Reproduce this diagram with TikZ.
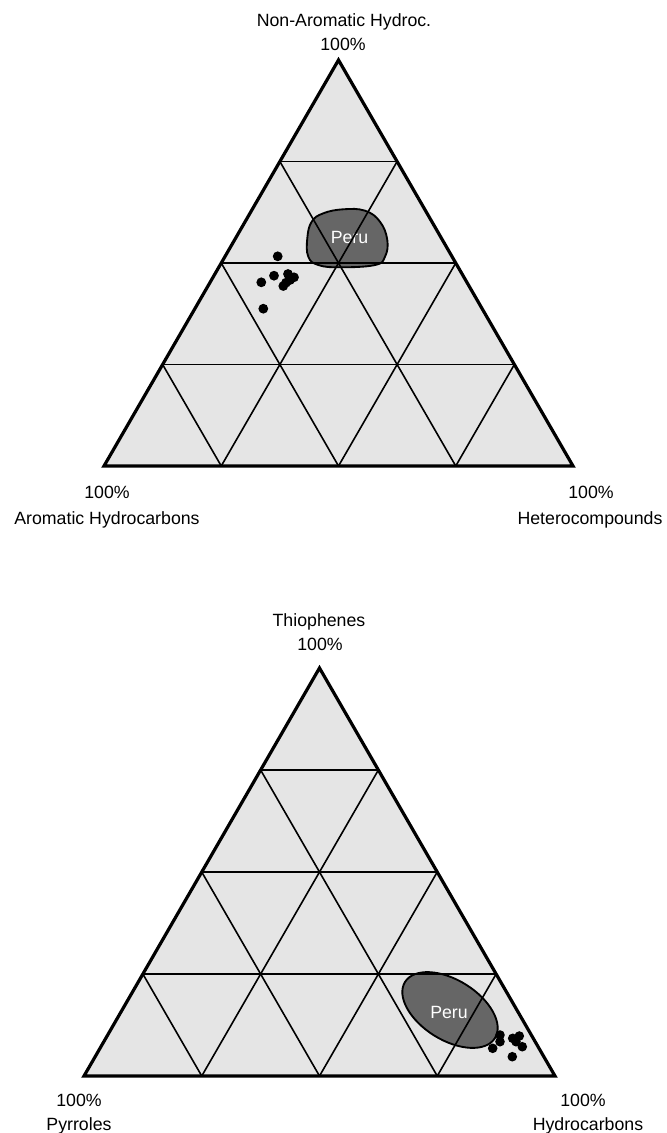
\documentclass[tikz,border=0pt]{standalone}
\usepackage{fontspec}
\setmainfont{Liberation Sans}
\usetikzlibrary{calc}
\definecolor{triFill}{HTML}{E5E5E5}
\definecolor{peruFill}{HTML}{666666}
\begin{document}
\begin{tikzpicture}[x=0.75pt,y=-0.75pt,
  trifill/.style={fill=triFill,draw=none},
  gridline/.style={line width=1.2pt},
  border/.style={line width=2.4pt,line join=miter},
  peru/.style={fill=peruFill,draw=black,line width=1.4pt},
  dotmark/.style={fill=black},
  lbl/.style={font=\fontsize{13.3}{16}\selectfont,inner sep=0pt,anchor=base},
  perulbl/.style={lbl,text=white}]
\useasboundingbox (0,0) rectangle (667,1133);

% ---------- top triangle ----------
\coordinate (tA) at (338.5,60);
\coordinate (tB) at (104,466);
\coordinate (tC) at (573,466);
\fill[trifill] (tA) -- (tB) -- (tC) -- cycle;
% Peru region (top)
\draw[peru] plot[smooth cycle,tension=0.7] coordinates {
  (307.3,238.3) (311.7,221.7) (323.3,213.3) (343.3,209.3) (365,210.7)
  (380,221.7) (387.3,240) (385,256.7) (375,265) (340,267.3)
  (318.3,265) (308.3,256.7)};
\node[perulbl] (tperu) at (349.5,243.5) {Peru};
% grid
\foreach \t in {0.25,0.5,0.75}{
  \draw[gridline] ($(tB)!\t!(tA)$) -- ($(tC)!\t!(tA)$);
  \draw[gridline] ($(tB)!\t!(tC)$) -- ($(tA)!\t!(tC)$);
  \draw[gridline] ($(tB)!\t!(tC)$) -- ($(tB)!\t!(tA)$);
}
% samples
\foreach \p in {(277.7,256.3),(274,275.7),(261.3,282.3),(263.3,308.7),
  (288,274),(294,277.3),(290,280),(286,282.7),(283.3,286)}
  \fill[dotmark] \p circle[radius=4.9];
\draw[border] (tA) -- (tB) -- (tC) -- cycle;
% labels
\node[lbl] (tAtop) at (344,26) {Non-Aromatic Hydroc.};
\node[lbl] (tApct) at (343,50) {100\%};
\node[lbl] (tBpct) at (107,498) {100\%};
\node[lbl] (tBname) at (107,524) {Aromatic Hydrocarbons};
\node[lbl] (tCpct) at (591,498) {100\%};
\node[lbl] (tCname) at (590,524) {Heterocompounds};

% ---------- bottom triangle ----------
\coordinate (bA) at (319.5,668);
\coordinate (bB) at (84,1076);
\coordinate (bC) at (555,1076);
\fill[trifill] (bA) -- (bB) -- (bC) -- cycle;
\draw[peru,shift={(450,1010)},rotate=-32] (0,0) ellipse[x radius=53,y radius=30];
\node[perulbl] (bperu) at (449,1018) {Peru};
\foreach \t in {0.25,0.5,0.75}{
  \draw[gridline] ($(bB)!\t!(bA)$) -- ($(bC)!\t!(bA)$);
  \draw[gridline] ($(bB)!\t!(bC)$) -- ($(bA)!\t!(bC)$);
  \draw[gridline] ($(bB)!\t!(bC)$) -- ($(bB)!\t!(bA)$);
}
\foreach \p in {(500,1035),(500,1041.7),(492.7,1048.3),(512.7,1038.3),
  (519.3,1036),(516,1041.7),(522.3,1046.7),(512.3,1056.7)}
  \fill[dotmark] \p circle[radius=4.8];
\draw[border] (bA) -- (bB) -- (bC) -- cycle;
\node[lbl] (bAtop) at (319,626) {Thiophenes};
\node[lbl] (bApct) at (320,650) {100\%};
\node[lbl] (bBpct) at (79,1106) {100\%};
\node[lbl] (bBname) at (79,1130) {Pyrroles};
\node[lbl] (bCpct) at (583,1106) {100\%};
\node[lbl] (bCname) at (588,1130) {Hydrocarbons};
\end{tikzpicture}
\end{document}
